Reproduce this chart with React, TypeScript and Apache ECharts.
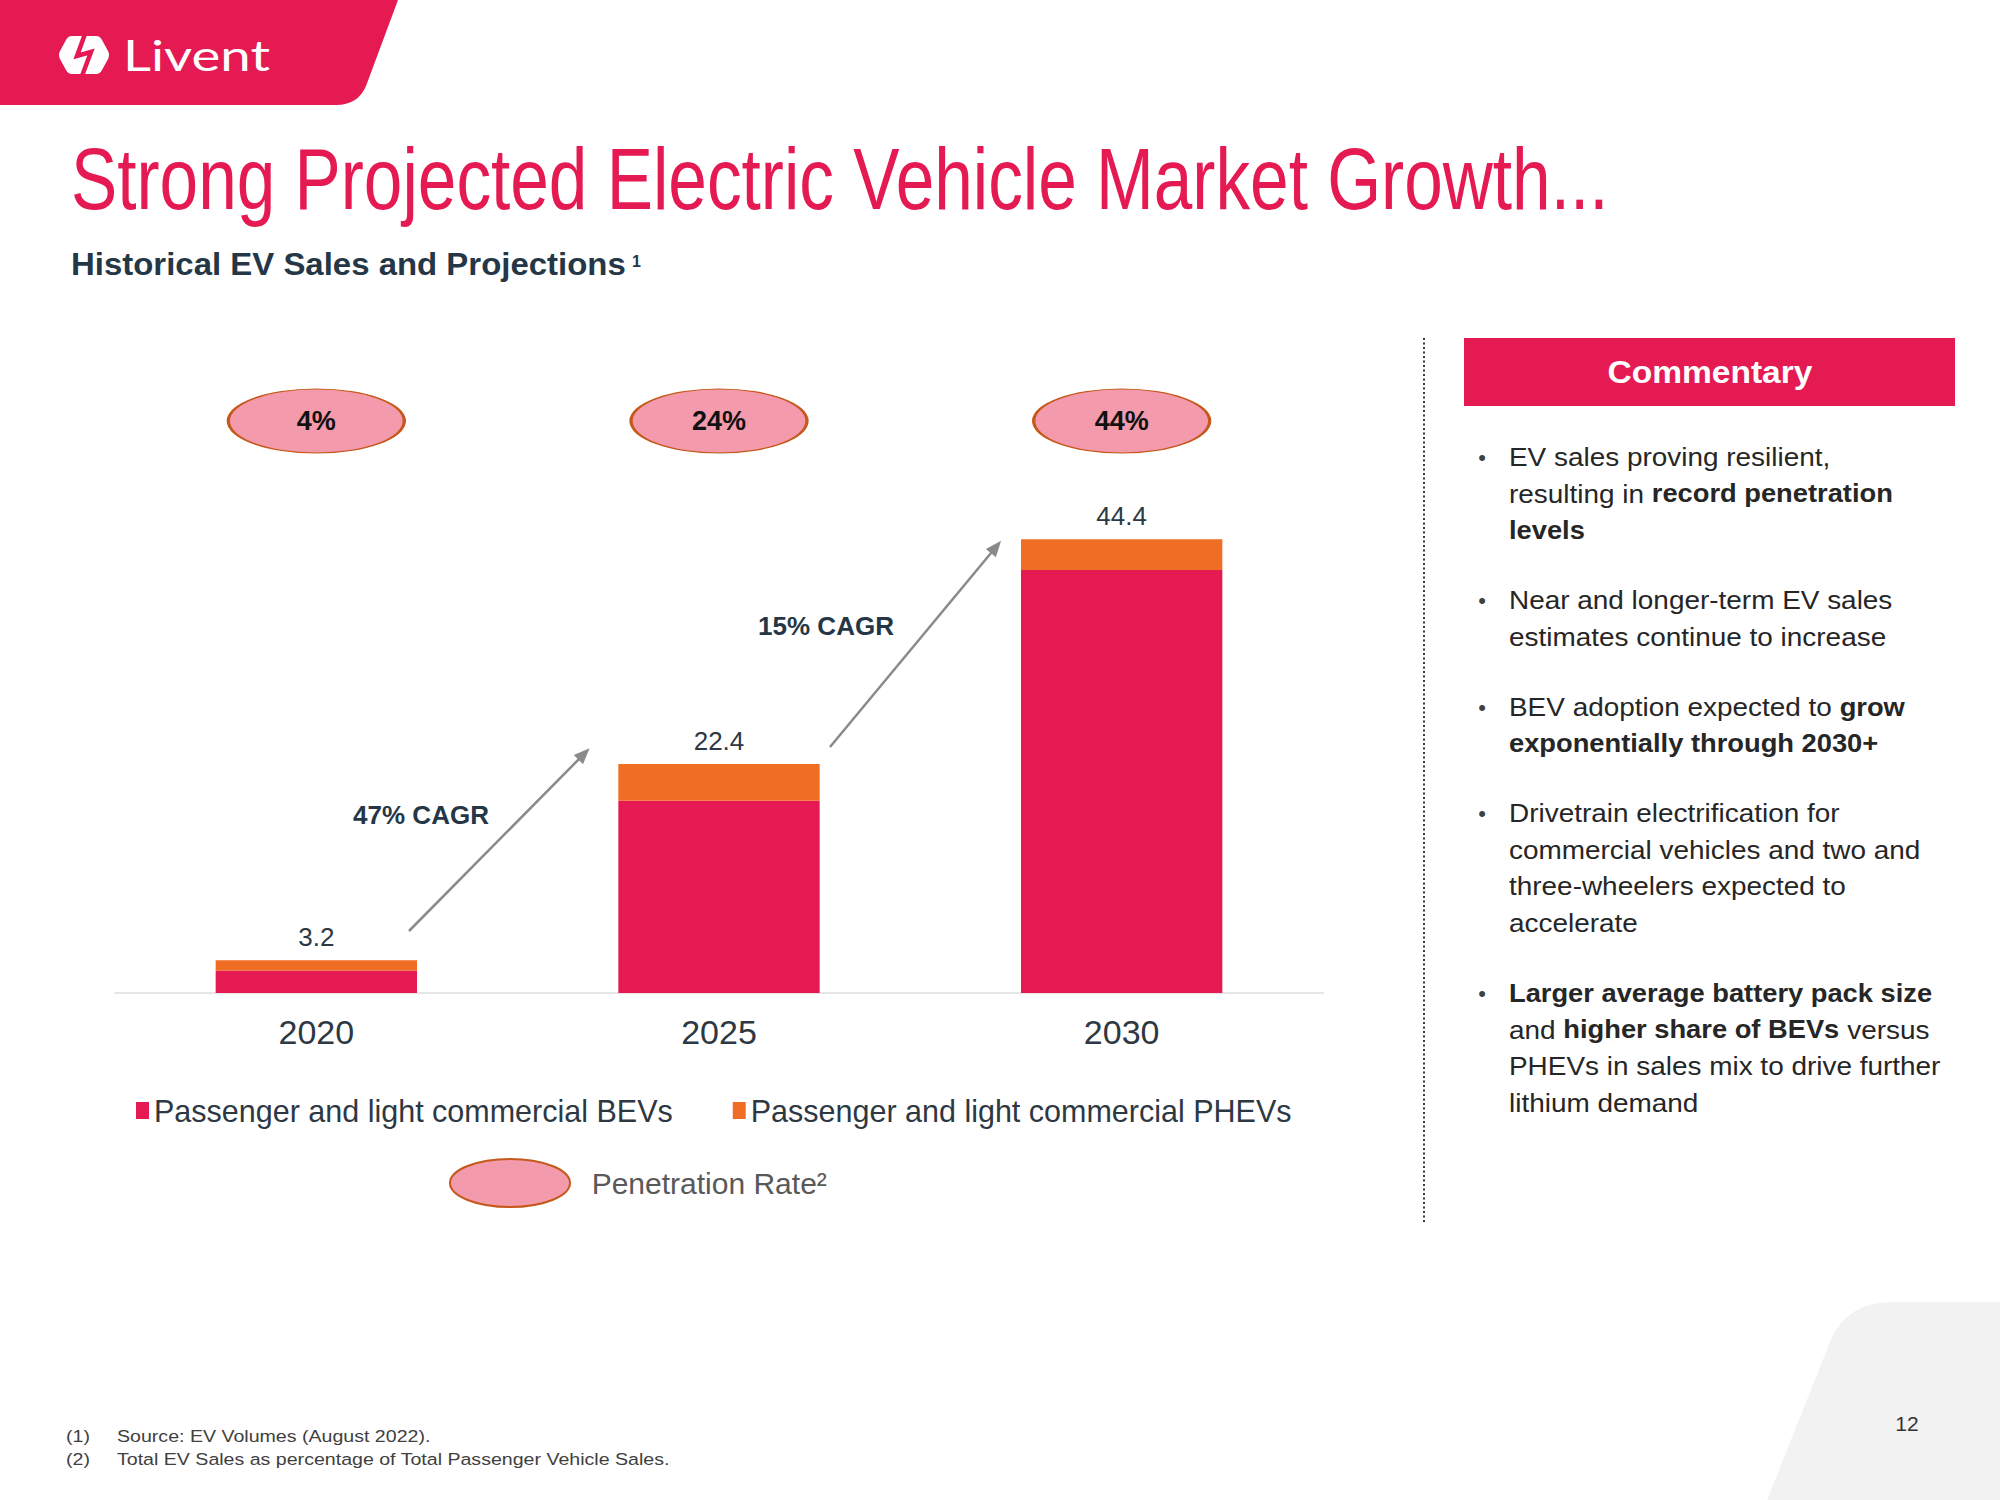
import React, { useEffect, useRef } from 'react';
import * as echarts from 'echarts';

// ---------- data ----------
const categories = ['2020', '2025', '2030'];
const bevSales = [2.2, 18.8, 41.4];
const phevSales = [1.0, 3.6, 3.0];
const totalSales = [3.2, 22.4, 44.4];
const penetrationRate = [4, 24, 44];
const cagrLabels = ['47% CAGR', '15% CAGR'];
const seriesNames = [
  'Passenger and light commercial BEVs',
  'Passenger and light commercial PHEVs',
  'Penetration Rate²',
];
const titleText = 'Strong Projected Electric Vehicle Market Growth...';
const subtitleText = 'Historical EV Sales and Projections';
const footnoteNums = ['(1)', '(2)'];
const footnoteTexts = [
  'Source: EV Volumes (August 2022).',
  'Total EV Sales as percentage of Total Passenger Vehicle Sales.',
];
type Seg = [string, boolean];
const commentary: Seg[][][] = [
  [[['EV sales proving resilient,', false]], [['resulting in ', false], ['record penetration', true]], [['levels', true]]],
  [[['Near and longer-term EV sales', false]], [['estimates continue to increase', false]]],
  [[['BEV adoption expected to ', false], ['grow', true]], [['exponentially through 2030+', true]]],
  [
    [['Drivetrain electrification for', false]],
    [['commercial vehicles and two and', false]],
    [['three-wheelers expected to', false]],
    [['accelerate', false]],
  ],
  [
    [['Larger average battery pack size', true]],
    [['and ', false], ['higher share of BEVs', true], [' versus', false]],
    [['PHEVs in sales mix to drive further', false]],
    [['lithium demand', false]],
  ],
];

// ---------- styling ----------
const FONT = '"Liberation Sans", Arial, Helvetica, sans-serif';
const RED = '#E51A52';
const ORANGE = '#F06E23';
const PINK = '#F39BAC';
const BROWN = '#C5581A';
const NAVY = '#253746';
const SLATE = '#2d3843';
const ELLIPSE =
  'path://M0,50 C0,22.4 22.4,0 50,0 C77.6,0 100,22.4 100,50 C100,77.6 77.6,100 50,100 C22.4,100 0,77.6 0,50 Z';

const bulletFirstY = [457, 600, 707, 813, 993];
const LINE_H = 36.6;
const arrowSegs = [
  [409, 931, 584, 754],
  [830, 747, 996, 547],
];
const cagrPos = [
  [421, 815],
  [826, 626],
];

function textWidth(text: string, font: string): number {
  const ctx = document.createElement('canvas').getContext('2d');
  if (!ctx) return text.length * 10;
  ctx.font = font;
  return ctx.measureText(text).width;
}

let shapesRegistered = false;
function registerShapes() {
  if (shapesRegistered) return;
  shapesRegistered = true;
  echarts.graphic.registerShape(
    'banner',
    echarts.graphic.extendPath('M0,0 L398,0 L366,86 Q358,105 336,105 L0,105 Z', {})
  );
  echarts.graphic.registerShape(
    'corner',
    echarts.graphic.extendPath('M1767,1500 L1830,1342 Q1846,1302 1892,1302 L2000,1302 L2000,1500 Z', {})
  );
  echarts.graphic.registerShape(
    'hexlogo',
    echarts.graphic.extendPath(
      'M60,51 L66,40 Q68,36 72,36 L96,36 Q100,36 102,40 L108,51 Q110,55 108,59 L102,70 Q100,74 96,74 L72,74 Q68,74 66,70 L60,59 Q58,55 60,51 Z',
      {}
    )
  );
}

function buildGraphics(): any[] {
  const g: any[] = [];
  // background shapes
  g.push({ type: 'corner', x: 0, y: 0, silent: true, style: { fill: '#F2F2F2' } });
  g.push({ type: 'banner', x: 0, y: 0, silent: true, style: { fill: RED } });
  g.push({ type: 'hexlogo', x: 0, y: 0, silent: true, style: { fill: '#ffffff' } });
  g.push({
    type: 'polyline',
    silent: true,
    shape: { points: [[85, 34], [77, 56], [91, 52], [82, 76]] },
    style: { stroke: RED, lineWidth: 4.5, fill: null, lineJoin: 'miter' },
  });
  const liventFont = `42px Lato, "Noto Sans", ${FONT}`;
  g.push({
    type: 'text',
    x: 123,
    y: 55,
    scaleX: 147 / textWidth('Livent', liventFont),
    silent: true,
    style: { text: 'Livent', font: liventFont, fill: '#ffffff', align: 'left', verticalAlign: 'middle' },
  });

  // title
  const titleFont = `87px ${FONT}`;
  g.push({
    type: 'text',
    x: 71,
    y: 179,
    scaleX: 1537 / textWidth(titleText, titleFont),
    silent: true,
    style: { text: titleText, font: titleFont, fill: RED, align: 'left', verticalAlign: 'middle' },
  });
  // subtitle
  const subFont = `bold 31px ${FONT}`;
  const subScale = 555 / textWidth(subtitleText, subFont);
  g.push({
    type: 'text',
    x: 71,
    y: 264,
    scaleX: subScale,
    silent: true,
    style: { text: subtitleText, font: subFont, fill: NAVY, align: 'left', verticalAlign: 'middle' },
  });
  g.push({
    type: 'text',
    x: 632,
    y: 261,
    silent: true,
    style: { text: '1', font: `bold 16px ${FONT}`, fill: NAVY, align: 'left', verticalAlign: 'middle' },
  });

  // CAGR annotations
  cagrLabels.forEach((t, i) => {
    g.push({
      type: 'text',
      x: cagrPos[i][0],
      y: cagrPos[i][1],
      silent: true,
      style: { text: t, font: `bold 26px ${FONT}`, fill: NAVY, align: 'center', verticalAlign: 'middle' },
    });
  });

  // divider
  g.push({
    type: 'line',
    silent: true,
    shape: { x1: 1424, y1: 338, x2: 1424, y2: 1222 },
    style: { stroke: '#3a3a3a', lineWidth: 2, lineDash: [2, 2.5] },
  });

  // commentary header
  g.push({ type: 'rect', silent: true, shape: { x: 1464, y: 338, width: 491, height: 68 }, style: { fill: RED } });
  const comFont = `bold 31px ${FONT}`;
  g.push({
    type: 'text',
    x: 1710,
    y: 372,
    scaleX: 205 / textWidth('Commentary', comFont),
    silent: true,
    style: { text: 'Commentary', font: comFont, fill: '#ffffff', align: 'center', verticalAlign: 'middle' },
  });

  // commentary bullets
  const rich = {
    n: { fontSize: 26.6, fontFamily: FONT, fill: '#262626' },
    b: { fontSize: 26, fontFamily: FONT, fontWeight: 'bold', fill: '#262626' },
  };
  commentary.forEach((para, pi) => {
    const y0 = bulletFirstY[pi];
    g.push({
      type: 'text',
      x: 1482,
      y: y0,
      silent: true,
      style: { text: '•', font: `22px ${FONT}`, fill: '#404040', align: 'center', verticalAlign: 'middle' },
    });
    para.forEach((line, li) => {
      const txt = line.map(([s, b]) => `{${b ? 'b' : 'n'}|${s}}`).join('');
      g.push({
        type: 'text',
        x: 1509,
        y: y0 + li * LINE_H,
        scaleX: 1.05,
        silent: true,
        style: { text: txt, rich, align: 'left', verticalAlign: 'middle' },
      });
    });
  });

  // footnotes
  const fnFont = `17px ${FONT}`;
  const fnScale = 553 / textWidth(footnoteTexts[1], fnFont);
  footnoteNums.forEach((num, i) => {
    const y = 1436 + i * 23;
    g.push({
      type: 'text',
      x: 66,
      y,
      scaleX: fnScale,
      silent: true,
      style: { text: num, font: fnFont, fill: '#404040', align: 'left', verticalAlign: 'middle' },
    });
    g.push({
      type: 'text',
      x: 117,
      y,
      scaleX: fnScale,
      silent: true,
      style: { text: footnoteTexts[i], font: fnFont, fill: '#404040', align: 'left', verticalAlign: 'middle' },
    });
  });

  // page number
  g.push({
    type: 'text',
    x: 1907,
    y: 1423,
    silent: true,
    style: { text: '12', font: `21px ${FONT}`, fill: '#333333', align: 'center', verticalAlign: 'middle' },
  });
  return g;
}

function buildOption(): any {
  return {
    animation: false,
    backgroundColor: '#ffffff',
    textStyle: { fontFamily: FONT },
    grid: { left: 115, right: 677, top: 482, bottom: 507 },
    xAxis: [
      {
        type: 'category',
        data: categories,
        axisTick: { show: false },
        axisLine: { lineStyle: { color: '#e6e6e6', width: 2 } },
        axisLabel: { fontSize: 34, color: SLATE, margin: 22, fontFamily: FONT },
        splitLine: { show: false },
      },
    ],
    yAxis: [
      { type: 'value', min: 0, max: 50, show: false, splitLine: { show: false } },
      { type: 'value', min: 0, max: 1, show: false, splitLine: { show: false } },
    ],
    legend: [
      {
        data: [seriesNames[0], seriesNames[1]],
        left: 136,
        top: 1095,
        padding: 0,
        icon: 'rect',
        itemWidth: 13,
        itemHeight: 17,
        itemGap: 60,
        selectedMode: false,
        textStyle: { fontSize: 30.5, color: SLATE, fontFamily: FONT },
      },
      {
        data: [
          {
            name: seriesNames[2],
            icon: ELLIPSE,
            itemStyle: { color: PINK, borderColor: BROWN, borderWidth: 2 },
          },
        ],
        left: 449,
        top: 1158,
        padding: 0,
        itemWidth: 120,
        itemHeight: 48,
        symbolKeepAspect: false,
        selectedMode: false,
        formatter: (name: string) => `  ${name}`,
        textStyle: { fontSize: 30, color: '#595959', fontFamily: FONT },
      },
    ],
    series: [
      {
        name: seriesNames[0],
        type: 'bar',
        stack: 'ev',
        data: bevSales,
        barWidth: '50%',
        itemStyle: { color: RED },
        emphasis: { disabled: true },
        markLine: {
          silent: true,
          symbol: ['none', 'triangle'],
          symbolSize: [13, 16],
          lineStyle: { color: '#8a8a8a', width: 2.5, type: 'solid' },
          label: { show: false },
          emphasis: { disabled: true },
          data: arrowSegs.map((a) => [
            { x: a[0], y: a[1] },
            { x: a[2], y: a[3] },
          ]),
        },
      },
      {
        name: seriesNames[1],
        type: 'bar',
        stack: 'ev',
        data: phevSales,
        itemStyle: { color: ORANGE },
        emphasis: { disabled: true },
        label: {
          show: true,
          position: 'top',
          distance: 10,
          fontSize: 26,
          color: SLATE,
          fontFamily: FONT,
          formatter: (p: any) => totalSales[p.dataIndex].toFixed(1),
        },
      },
      {
        name: seriesNames[2],
        type: 'scatter',
        yAxisIndex: 1,
        symbol: ELLIPSE,
        symbolSize: [176, 64],
        symbolKeepAspect: false,
        symbolOffset: [0, -61],
        clip: false,
        z: 5,
        itemStyle: { color: PINK, borderColor: BROWN, borderWidth: 2, opacity: 1 },
        emphasis: { disabled: true },
        label: {
          show: true,
          position: 'inside',
          fontSize: 27,
          fontWeight: 'bold',
          color: '#111111',
          fontFamily: FONT,
          formatter: (p: any) => `${p.data.rate}%`,
        },
        data: penetrationRate.map((r, i) => ({ value: [i, 1], rate: r })),
      },
    ],
    graphic: buildGraphics(),
  };
}

export default function App() {
  const ref = useRef<HTMLDivElement>(null);
  useEffect(() => {
    if (!ref.current) return;
    registerShapes();
    const chart = echarts.init(ref.current, null, { renderer: 'svg', width: 2000, height: 1500 });
    chart.setOption(buildOption());
    return () => chart.dispose();
  }, []);
  return (
    <div
      ref={ref}
      style={{ position: 'absolute', left: 0, top: 0, width: 2000, height: 1500, background: '#ffffff' }}
    />
  );
}
